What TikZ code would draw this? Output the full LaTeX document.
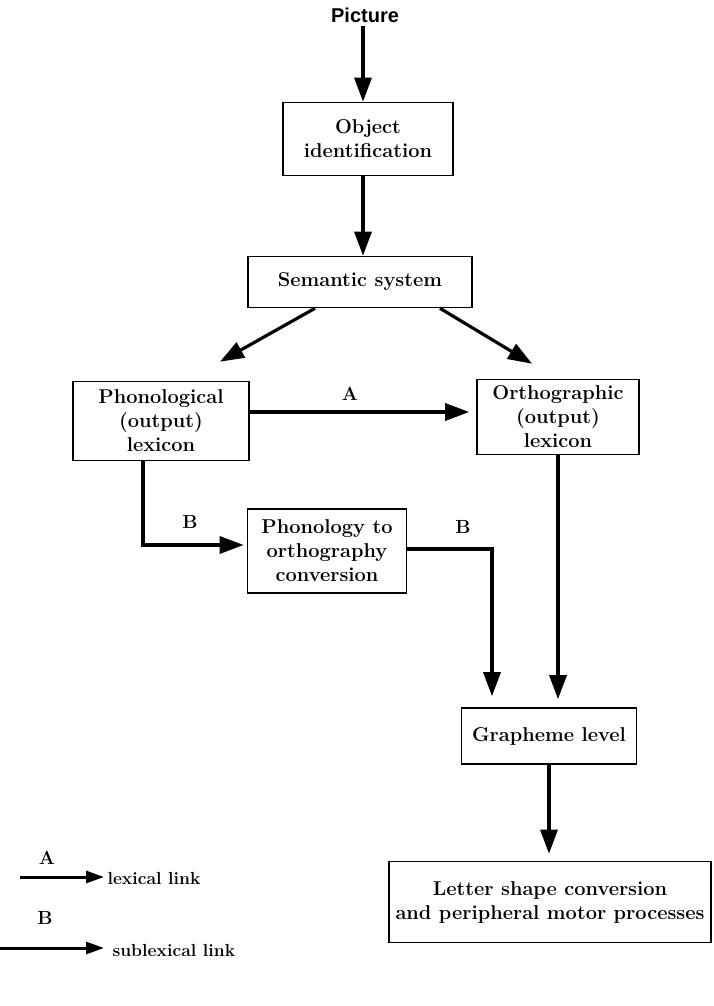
\documentclass[tikz,border=0pt]{standalone}
\usepackage{fontspec}
\newfontfamily\picfont{Liberation Sans}
\usetikzlibrary{arrows.meta,calc}
\begin{document}
\begin{tikzpicture}[x=1pt,y=-1pt,
	stage/.style={draw, line width=1.6pt, inner sep=0pt, align=center,
		font=\fontsize{20}{24}\selectfont\bfseries},
	link/.style={line width=3.2pt, -{Triangle[length=24pt,width=17pt]}},
	linklabel/.style={font=\fontsize{19}{22}\selectfont\bfseries},
	keylink/.style={line width=3pt, -{Triangle[length=18pt,width=12pt]}},
	keytext/.style={anchor=west, font=\fontsize{17.5}{20}\selectfont\bfseries}]
		\useasboundingbox (0,0) rectangle (713,1006);
		\node (pic) at (365,15) {\picfont\fontsize{20}{24}\selectfont\bfseries Picture};
		\node[stage, minimum width=170pt, minimum height=73pt] (obj) at (368,139) {Object\\identification};
		\node[stage, minimum width=224pt, minimum height=51pt] (sem) at (360,282) {Semantic system};
		\node[stage, minimum width=176pt, minimum height=79pt] (phon) at (161,421) {Phonological\\(output)\\lexicon};
		\node[stage, minimum width=162pt, minimum height=75pt] (orth) at (558,417) {Orthographic\\(output)\\lexicon};
		\node[stage, minimum width=159pt, minimum height=84pt] (conv) at (327,551) {Phonology to\\orthography\\conversion};
		\node[stage, minimum width=175pt, minimum height=56pt] (graph) at (549,736) {Grapheme level};
		\node[stage, minimum width=322pt, minimum height=81pt] (letter) at (550,902) {Letter shape conversion\\and peripheral motor processes};
		\draw[link] ([xshift=-2pt]pic.south) -- ([xshift=-5pt]obj.north);
		\draw[link] ([xshift=-5pt]obj.south) -- ([xshift=3pt]sem.north);
		\draw[link] ([xshift=-45pt]sem.south) -- ($(phon.north)+(59,-19)$);
		\draw[link] ([xshift=80pt]sem.south) -- ($(orth.north)+(-26,-15)$);
		\draw[link, shorten >=7pt] ([yshift=9pt]phon.east) -- ([yshift=9pt]phon.east -| orth.west);
		\node[linklabel] (labA) at (350,394) {A};
		\draw[link, shorten >=3pt] ([xshift=-18pt]phon.south) |- ([yshift=6pt]conv.west);
		\node[linklabel] (labB1) at (190,522) {B};
		\draw[link, shorten >=11pt] ([yshift=2pt]conv.east) -| ([xshift=-57pt]graph.north);
		\node[linklabel] (labB2) at (463,527) {B};
		\draw[link, shorten >=8pt] (orth.south) -- (orth.south |- graph.north);
		\draw[link, shorten >=7pt] (graph.south) -- (graph.south |- letter.north);
		\node[linklabel] (keyA) at (47,858) {A};
		\coordinate (keyAstart) at (20,877);
		\node[keytext] (keyAtext) at (104,878) {lexical link};
		\draw[keylink] (keyAstart) -- (keyAstart -| keyAtext.west);
		\node[linklabel] (keyB) at (45,918) {B};
		\coordinate (keyBstart) at (0,948);
		\node[keytext] (keyBtext) at (109,950) {sublexical link};
		\draw[keylink, shorten >=5pt] (keyBstart) -- (keyBstart -| keyBtext.west);
\end{tikzpicture}
\end{document}
